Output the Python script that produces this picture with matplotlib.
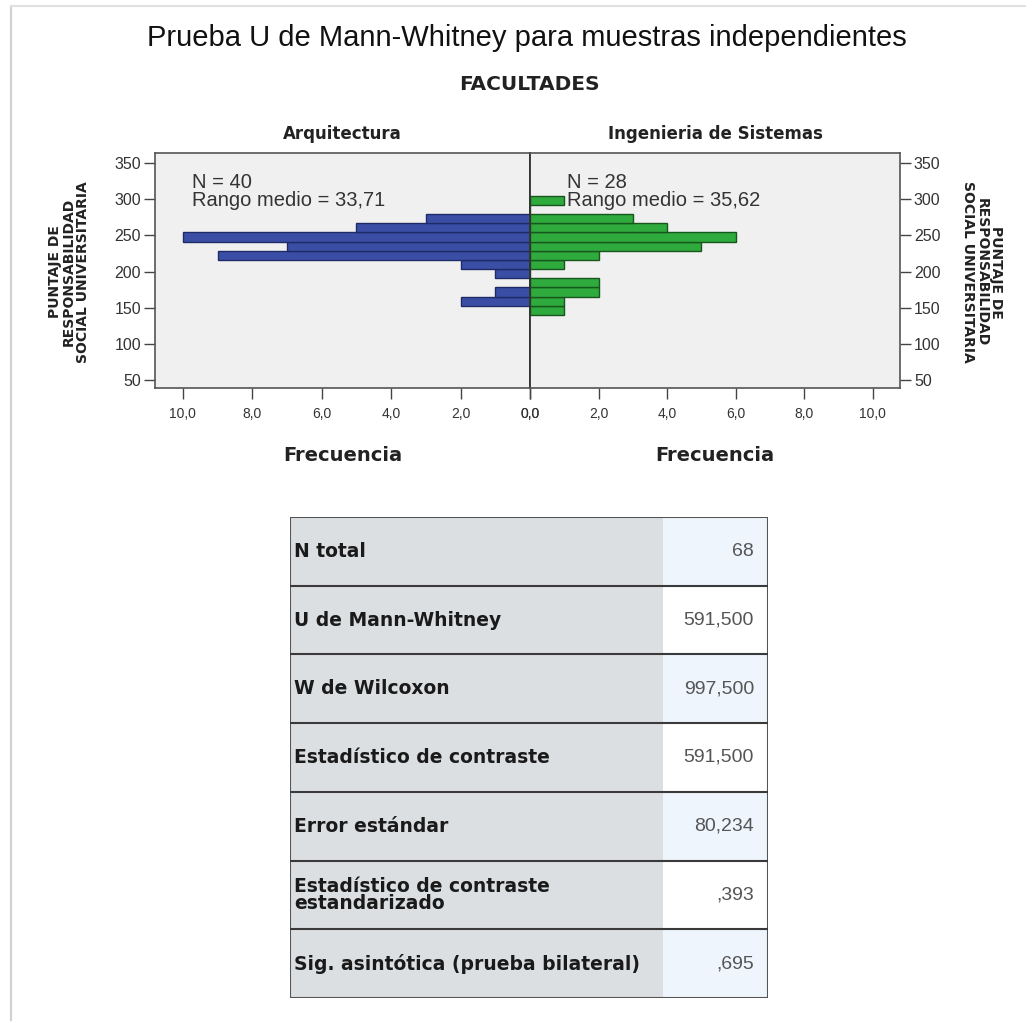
import matplotlib
matplotlib.use("Agg")
import matplotlib.pyplot as plt
from matplotlib.patches import Rectangle

# histogram bins (lower edge of each bin, bottom to top)
bin_start = [140.0, 152.7, 165.4, 178.1, 190.8, 203.5, 216.2, 228.9, 241.6, 254.3, 267.0, 279.7, 292.4]
bin_width = 12.7
freq_arq = [0, 2, 1, 0, 1, 2, 9, 7, 10, 5, 3, 0, 0]
freq_sis = [1, 1, 2, 2, 0, 1, 2, 5, 6, 4, 3, 0, 1]

groups = ["Arquitectura", "Ingenieria de Sistemas"]
n_groups = [40, 28]
rango_medio = ["33,71", "35,62"]

y_ticks = [50, 100, 150, 200, 250, 300, 350]
x_ticks = [0, 2, 4, 6, 8, 10]

row_labels = ["N total", "U de Mann-Whitney", "W de Wilcoxon", "Estadístico de contraste",
              "Error estándar", "Estadístico de contraste\nestandarizado",
              "Sig. asintótica (prueba bilateral)"]
row_values = ["68", "591,500", "997,500", "591,500", "80,234", ",393", ",695"]

W, H = 1033, 1023
fig = plt.figure(figsize=(W / 100, H / 100), dpi=100)

bold = ["DejaVu Sans"]
sans = ["Liberation Sans", "DejaVu Sans"]

def fx(px):
  return px / W

def fy(py):
  return 1 - py / H

# faint page frame
fig.add_artist(plt.Line2D([fx(11), fx(11)], [fy(6), fy(1020)], color="#d0d0d0", lw=1.5))
fig.add_artist(plt.Line2D([fx(11), fx(1025)], [fy(6), fy(6)], color="#e0e0e0", lw=1.5))

fig.text(fx(527), fy(38), "Prueba U de Mann-Whitney para muestras independientes",
         ha="center", va="center", fontsize=21, family=sans, color="#111111")
fig.text(fx(529), fy(84), "FACULTADES", ha="center", va="center", fontsize=14.5,
         family=bold, fontweight="bold", color="#222222")

x_min, x_max = 0, 10.8
y_min, y_max = 39, 364
top, bottom = 153, 388
left_x, mid_x, right_x = 155, 530, 900

for i, (freq, color, edge) in enumerate([(freq_arq, "#3b4ea6", "#1f2b66"),
                                         (freq_sis, "#2faa3c", "#17561d")]):
  if i == 0:
    ax = fig.add_axes([fx(left_x), fy(bottom), fx(mid_x - left_x), (bottom - top) / H])
  else:
    ax = fig.add_axes([fx(mid_x), fy(bottom), fx(right_x - mid_x), (bottom - top) / H])
  ax.set_facecolor("#f0f0f0")
  ax.barh(bin_start, freq, height=bin_width, align="edge", color=color,
          edgecolor=edge, linewidth=1.0)
  ax.set_ylim(y_min, y_max)
  if i == 0:
    ax.set_xlim(x_max, x_min)
    ax.yaxis.tick_left()
    inner, outer = "right", "left"
  else:
    ax.set_xlim(x_min, x_max)
    ax.yaxis.tick_right()
    inner, outer = "left", "right"
  ax.spines[inner].set_color("#333333")
  ax.spines[inner].set_linewidth(1.3)
  for s in ["top", "bottom", outer]:
    ax.spines[s].set_color("#555555")
    ax.spines[s].set_linewidth(1.2)
  ax.set_yticks(y_ticks)
  ax.set_yticklabels([str(v) for v in y_ticks])
  ax.set_xticks(x_ticks)
  ax.set_xticklabels([("%.1f" % v).replace(".", ",") for v in x_ticks])
  ax.tick_params(direction="out", length=8, width=1, colors="#444444",
                 labelcolor="#333333")
  ax.tick_params(axis="x", pad=6, labelsize=10)
  ax.tick_params(axis="y", pad=2, labelsize=11.5)
  for lab in ax.get_xticklabels() + ax.get_yticklabels():
    lab.set_family(sans)
  ax.set_xlabel("Frecuencia", fontsize=14, family=bold, fontweight="bold",
                color="#222222", labelpad=18)
  ax.set_title(groups[i], fontsize=12, family=bold, fontweight="bold",
               color="#222222", pad=10)
  ax.text(0.1, 0.915, "N = %d\nRango medio = %s" % (n_groups[i], rango_medio[i]),
          transform=ax.transAxes, ha="left", va="top", fontsize=14.5, family=sans,
          color="#333333", linespacing=0.95)

ylab = "PUNTAJE DE\nRESPONSABILIDAD\nSOCIAL UNIVERSITARIA"
fig.text(fx(69), fy(272), ylab, rotation=90, ha="center", va="center", fontsize=10,
         family=bold, fontweight="bold", color="#222222", linespacing=1.0)
fig.text(fx(982), fy(272), ylab, rotation=270, ha="center", va="center", fontsize=10,
         family=bold, fontweight="bold", color="#222222", linespacing=1.0)

# statistics table
t_left, t_right, t_top, t_bottom = 290, 768, 517, 998
val_x = 663
tab = fig.add_axes([fx(t_left), fy(t_bottom), fx(t_right - t_left), (t_bottom - t_top) / H])
tab.set_xlim(t_left, t_right)
tab.set_ylim(t_bottom, t_top)
tab.axis("off")
row_h = (t_bottom - t_top) / len(row_labels)
for r, (lab, val) in enumerate(zip(row_labels, row_values)):
  y0 = t_top + r * row_h
  tab.add_patch(Rectangle((t_left, y0), val_x - t_left, row_h, facecolor="#dcdfe2",
                          edgecolor="none"))
  tab.add_patch(Rectangle((val_x, y0), t_right - val_x, row_h,
                          facecolor="#eef5fc" if r % 2 == 0 else "#ffffff", edgecolor="none"))
  tab.text(t_left + 4, y0 + row_h / 2, lab, ha="left", va="center", fontsize=13.5,
           family=bold, fontweight="bold", color="#1a1a1a", linespacing=0.9)
  tab.text(t_right - 14, y0 + row_h / 2, val, ha="right", va="center", fontsize=14,
           family=sans, color="#555555")
  if r > 0:
    tab.plot([t_left, t_right], [y0, y0], color="#3a3a3a", lw=1.5)
tab.add_patch(Rectangle((t_left, t_top), t_right - t_left, t_bottom - t_top,
                        facecolor="none", edgecolor="#555555", lw=1.5))

fig.savefig("out.png", dpi=100)
